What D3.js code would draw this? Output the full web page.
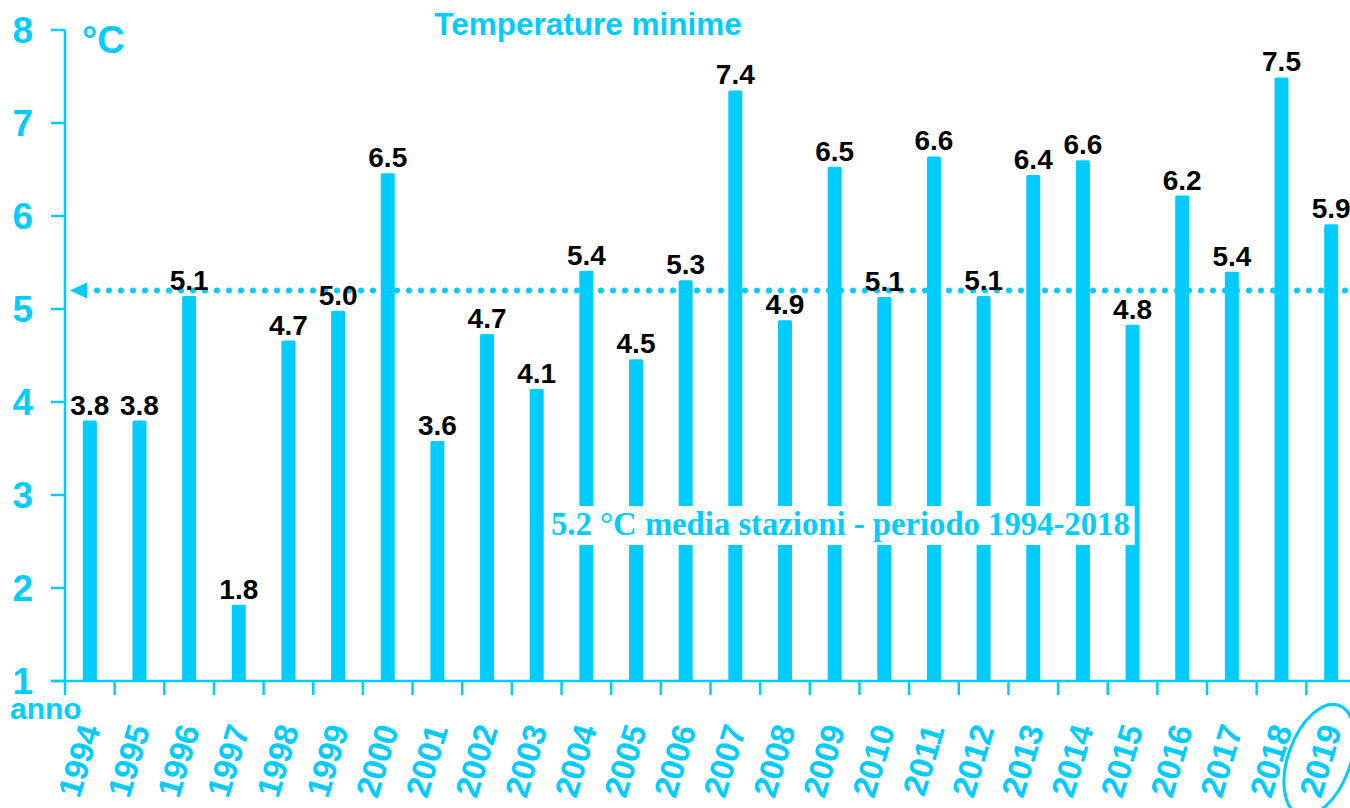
<!DOCTYPE html>
<html>
<head>
<meta charset="utf-8">
<script src="https://cdn.jsdelivr.net/npm/d3@7"></script>
<style>
  html, body { margin: 0; padding: 0; background: #fff; }
  svg { display: block; font-family: "Liberation Sans", Arial, sans-serif; }
</style>
</head>
<body>
<svg id="chart" width="1350" height="808"></svg>
<script>
// Temperature minime, 1994-2019
const years = [1994, 1995, 1996, 1997, 1998, 1999, 2000, 2001, 2002, 2003, 2004, 2005, 2006,
               2007, 2008, 2009, 2010, 2011, 2012, 2013, 2014, 2015, 2016, 2017, 2018, 2019];
// bar values; labels are these rounded to one decimal
const tmin = [3.80, 3.80, 5.14, 1.82, 4.66, 4.98, 6.46, 3.58, 4.73, 4.14, 5.41, 4.46, 5.31,
              7.35, 4.88, 6.53, 5.13, 6.64, 5.14, 6.44, 6.60, 4.83, 6.22, 5.40, 7.49, 5.91];
const yTicks = [1, 2, 3, 4, 5, 6, 7, 8];
const meanValue = 5.2;
const meanLabel = '5.2 °C media stazioni - periodo 1994-2018';
const highlightYear = 2019;

const CYAN = '#00ccff';
const svg = d3.select('#chart');

const x = d3.scaleBand()
    .domain(years)
    .range([65, 1356])
    .padding(0);

const y = d3.scaleLinear()
    .domain([1, 8])
    .range([681, 30]);

const bw = x.bandwidth();
const barW = 14;

// bars
svg.append('g')
    .selectAll('rect')
    .data(years)
    .join('rect')
    .attr('x', d => x(d) + (bw - barW) / 2)
    .attr('y', (d, i) => y(tmin[i]))
    .attr('width', barW)
    .attr('height', (d, i) => y(1) - y(tmin[i]))
    .attr('rx', 1.5)
    .attr('fill', CYAN);

// mean line, dotted, with arrow at the axis
const yMean = y(meanValue);
svg.append('line')
    .attr('x1', 97).attr('x2', 1350)
    .attr('y1', yMean).attr('y2', yMean)
    .attr('stroke', CYAN)
    .attr('stroke-width', 6)
    .attr('stroke-linecap', 'round')
    .attr('stroke-dasharray', '0 12');
svg.append('path')
    .attr('d', `M70,${yMean} L87,${yMean - 8} L87,${yMean + 8} Z`)
    .attr('fill', CYAN);

// value labels
svg.append('g')
    .selectAll('text')
    .data(years)
    .join('text')
    .attr('x', d => x(d) + bw / 2)
    .attr('y', (d, i) => y(tmin[i]) - 6)
    .attr('text-anchor', 'middle')
    .attr('font-size', 28)
    .attr('font-weight', 'bold')
    .attr('fill', '#000')
    .text((d, i) => (Math.round(tmin[i] * 10) / 10).toFixed(1));

// mean label on a white box
const meanG = svg.append('g');
const meanText = meanG.append('text')
    .attr('x', 551)
    .attr('y', 535)
    .attr('font-family', '"Liberation Serif", "Times New Roman", serif')
    .attr('font-weight', 'bold')
    .attr('font-size', 32.7)
    .attr('fill', CYAN)
    .text(meanLabel);
const bb = meanText.node().getBBox();
meanG.insert('rect', 'text')
    .attr('x', bb.x - 5)
    .attr('y', 506)
    .attr('width', bb.width + 10)
    .attr('height', 39)
    .attr('fill', '#fff');

// y axis
const yAxis = svg.append('g');
yAxis.append('line')
    .attr('x1', 65).attr('x2', 65)
    .attr('y1', y(8)).attr('y2', y(1))
    .attr('stroke', CYAN).attr('stroke-width', 2.5);
yAxis.selectAll('.ytick')
    .data(yTicks)
    .join('line')
    .attr('x1', 51).attr('x2', 65)
    .attr('y1', d => y(d)).attr('y2', d => y(d))
    .attr('stroke', CYAN).attr('stroke-width', 2.5);
yAxis.selectAll('.ylab')
    .data(yTicks)
    .join('text')
    .attr('x', 33)
    .attr('y', d => y(d) + 13)
    .attr('text-anchor', 'end')
    .attr('font-size', 37)
    .attr('font-weight', 'bold')
    .attr('fill', CYAN)
    .text(d => d);

// x axis
const xAxis = svg.append('g');
xAxis.append('line')
    .attr('x1', 51).attr('x2', 1350)
    .attr('y1', y(1)).attr('y2', y(1))
    .attr('stroke', CYAN).attr('stroke-width', 2.5);
xAxis.selectAll('.xtick')
    .data(years)
    .join('line')
    .attr('x1', d => x(d)).attr('x2', d => x(d))
    .attr('y1', y(1)).attr('y2', y(1) + 14)
    .attr('stroke', CYAN).attr('stroke-width', 2.5);
xAxis.selectAll('.xlab')
    .data(years)
    .join('text')
    .attr('transform', d => `translate(${x(d) + bw / 2 + 11},729) rotate(-73)`)
    .attr('text-anchor', 'end')
    .attr('font-size', 33)
    .attr('font-weight', 'bold')
    .attr('fill', CYAN)
    .text(d => d);

// ring round the latest year
svg.append('ellipse')
    .attr('transform', `translate(${x(highlightYear) + bw / 2 - 12},760) rotate(20)`)
    .attr('rx', 31)
    .attr('ry', 58)
    .attr('fill', 'none')
    .attr('stroke', CYAN)
    .attr('stroke-width', 3);

// texts
svg.append('text')
    .attr('x', 10).attr('y', 719)
    .attr('font-size', 30).attr('font-weight', 'bold')
    .attr('fill', CYAN)
    .text('anno');

svg.append('text')
    .attr('x', 82).attr('y', 53)
    .attr('font-size', 38).attr('font-weight', 'bold')
    .attr('fill', CYAN)
    .text('°C');

svg.append('text')
    .attr('x', 588).attr('y', 35)
    .attr('text-anchor', 'middle')
    .attr('font-size', 31.5).attr('font-weight', 'bold')
    .attr('fill', CYAN)
    .text('Temperature minime');
</script>
</body>
</html>
